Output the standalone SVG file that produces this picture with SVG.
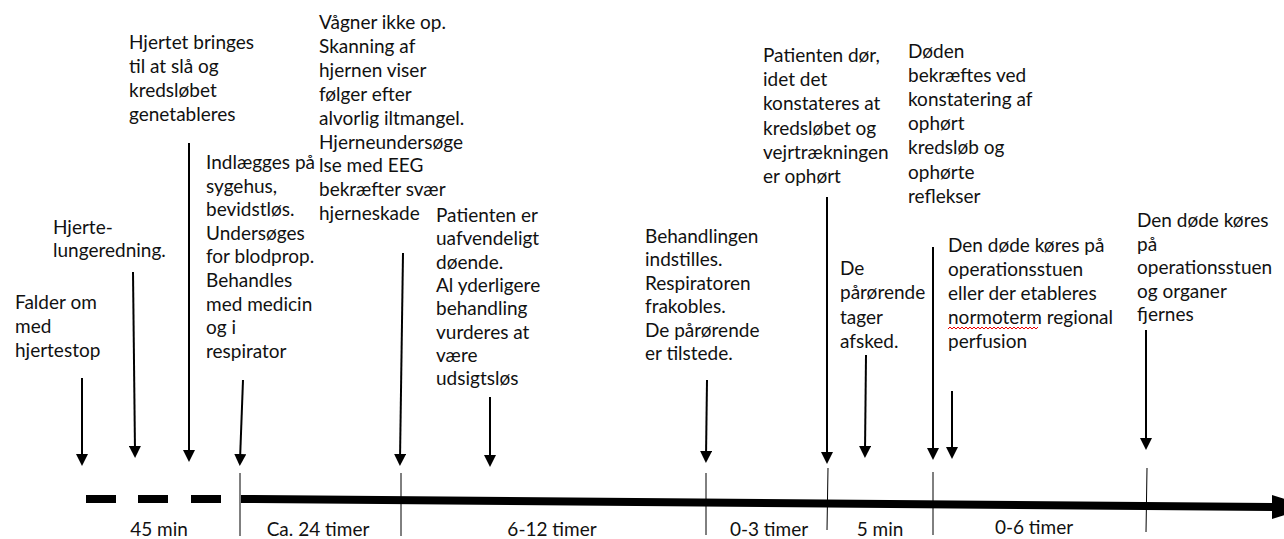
<svg xmlns="http://www.w3.org/2000/svg" width="1284" height="539" viewBox="0 0 1284 539">
<defs>
<style>
text{font-family:Lato,"Liberation Sans",sans-serif;font-size:19px;fill:#111}
.arr{stroke:#000;stroke-width:2;fill:none;marker-end:url(#ah)}
.tick{stroke:#000;stroke-width:1;fill:none}
.dash{fill:#000}
</style>
<marker id="ah" viewBox="0 0 12 12" refX="6" refY="6" markerWidth="12" markerHeight="12" markerUnits="userSpaceOnUse" orient="auto">
<path d="M0,0 L12,6 L0,12 z" fill="#000"/>
</marker>
</defs>
<rect width="1284" height="539" fill="#fff"/>

<g id="n-falder"><text x="15" y="309"><tspan x="15">Falder om</tspan><tspan x="15" dy="24">med</tspan><tspan x="15" dy="24">hjertestop</tspan></text></g>
<g id="n-hlr"><text x="53" y="234"><tspan x="53">Hjerte-</tspan><tspan x="53" dy="23">lungeredning.</tspan></text></g>
<g id="n-hjertet"><text x="129" y="49"><tspan x="129">Hjertet bringes</tspan><tspan x="129" dy="24">til at slå og</tspan><tspan x="129" dy="24">kredsløbet</tspan><tspan x="129" dy="24">genetableres</tspan></text></g>
<g id="n-indlaegges"><text x="206" y="169"><tspan x="206">Indlægges på</tspan><tspan x="206" dy="23.6">sygehus,</tspan><tspan x="206" dy="23.6">bevidstløs.</tspan><tspan x="206" dy="23.6">Undersøges</tspan><tspan x="206" dy="23.6">for blodprop.</tspan><tspan x="206" dy="23.6">Behandles</tspan><tspan x="206" dy="23.6">med medicin</tspan><tspan x="206" dy="23.6">og i</tspan><tspan x="206" dy="23.6">respirator</tspan></text></g>
<g id="n-vaagner"><text x="319" y="29"><tspan x="319">Vågner ikke op.</tspan><tspan x="319" dy="23.9">Skanning af</tspan><tspan x="319" dy="23.9">hjernen viser</tspan><tspan x="319" dy="23.9">følger efter</tspan><tspan x="319" dy="23.9">alvorlig iltmangel.</tspan><tspan x="319" dy="23.9">Hjerneundersøge</tspan><tspan x="319" dy="23.9">lse med EEG</tspan><tspan x="319" dy="23.9">bekræfter svær</tspan><tspan x="319" dy="23.9">hjerneskade</tspan></text></g>
<g id="n-patient-doende"><text x="436" y="222"><tspan x="436">Patienten er</tspan><tspan x="436" dy="23.3">uafvendeligt</tspan><tspan x="436" dy="23.3">døende.</tspan><tspan x="436" dy="23.3">Al yderligere</tspan><tspan x="436" dy="23.3">behandling</tspan><tspan x="436" dy="23.3">vurderes at</tspan><tspan x="436" dy="23.3">være</tspan><tspan x="436" dy="23.3">udsigtsløs</tspan></text></g>
<g id="n-behandlingen"><text x="645" y="243"><tspan x="645">Behandlingen</tspan><tspan x="645" dy="23.4">indstilles.</tspan><tspan x="645" dy="23.4">Respiratoren</tspan><tspan x="645" dy="23.4">frakobles.</tspan><tspan x="645" dy="23.4">De pårørende</tspan><tspan x="645" dy="23.4">er tilstede.</tspan></text></g>
<g id="n-patient-doer"><text x="763" y="62"><tspan x="763">Patienten dør,</tspan><tspan x="763" dy="24.2">idet det</tspan><tspan x="763" dy="24.2">konstateres at</tspan><tspan x="763" dy="24.2">kredsløbet og</tspan><tspan x="763" dy="24.2">vejrtrækningen</tspan><tspan x="763" dy="24.2">er ophørt</tspan></text></g>
<g id="n-afsked"><text x="840" y="275"><tspan x="840">De</tspan><tspan x="840" dy="24.3">pårørende</tspan><tspan x="840" dy="24.3">tager</tspan><tspan x="840" dy="24.3">afsked.</tspan></text></g>
<g id="n-doeden"><text x="908" y="58"><tspan x="908">Døden</tspan><tspan x="908" dy="24.1">bekræftes ved</tspan><tspan x="908" dy="24.1">konstatering af</tspan><tspan x="908" dy="24.1">ophørt</tspan><tspan x="908" dy="24.1">kredsløb og</tspan><tspan x="908" dy="24.1">ophørte</tspan><tspan x="908" dy="24.1">reflekser</tspan></text></g>
<g id="n-nrp"><text x="948" y="252"><tspan x="948">Den døde køres på</tspan><tspan x="948" dy="24">operationsstuen</tspan><tspan x="948" dy="24">eller der etableres</tspan><tspan x="948" dy="24">normoterm regional</tspan><tspan x="948" dy="24">perfusion</tspan></text>
<path d="M948,329 l2,-2 l2,2 l2,-2 l2,2 l2,-2 l2,2 l2,-2 l2,2 l2,-2 l2,2 l2,-2 l2,2 l2,-2 l2,2 l2,-2 l2,2 l2,-2 l2,2 l2,-2 l2,2 l2,-2 l2,2 l2,-2 l2,2 l2,-2 l2,2 l2,-2 l2,2 l2,-2 l2,2 l2,-2 l2,2 l2,-2 l2,2 l2,-2 l2,2 l2,-2 l2,2 l2,-2 l2,2 l2,-2 l2,2 l2,-2 l2,2 l2,-2" fill="none" stroke="#e00" stroke-width="1"/></g>
<g id="n-organer"><text x="1137" y="227"><tspan x="1137">Den døde køres</tspan><tspan x="1137" dy="23.6">på</tspan><tspan x="1137" dy="23.6">operationsstuen</tspan><tspan x="1137" dy="23.6">og organer</tspan><tspan x="1137" dy="23.6">fjernes</tspan></text></g>

<g id="durations" text-anchor="middle">
<text x="159" y="536">45 min</text>
<text x="318" y="536">Ca. 24 timer</text>
<text x="552" y="536">6-12 timer</text>
<text x="769" y="536">0-3 timer</text>
<text x="880" y="536">5 min</text>
<text x="1034" y="534">0-6 timer</text>
</g>

<g id="connectors">
<rect class="dash" x="86" y="495" width="30" height="8"/>
<rect class="dash" x="138" y="495" width="30" height="8"/>
<rect class="dash" x="191" y="495" width="30" height="8"/>
<line x1="241" y1="499" x2="1276" y2="507" stroke="#000" stroke-width="8"/>
<polygon points="1272,495 1310,507 1272,519" fill="#000"/>
<line class="tick" x1="240" y1="473" x2="240" y2="536"/>
<line class="tick" x1="401" y1="473" x2="401" y2="536"/>
<line class="tick" x1="706" y1="473" x2="706" y2="535"/>
<line class="tick" x1="828" y1="468" x2="827" y2="530"/>
<line class="tick" x1="933" y1="472" x2="933" y2="535"/>
<line class="tick" x1="1147" y1="468" x2="1146" y2="532"/>
<line class="arr" x1="82" y1="378" x2="82" y2="460"/>
<line class="arr" x1="133" y1="272" x2="135" y2="452"/>
<line class="arr" x1="189" y1="143" x2="189" y2="456"/>
<line class="arr" x1="243" y1="380" x2="240" y2="460"/>
<line class="arr" x1="403" y1="253" x2="400" y2="460"/>
<line class="arr" x1="490" y1="397" x2="490" y2="461"/>
<line class="arr" x1="707" y1="380" x2="706" y2="457"/>
<line class="arr" x1="827" y1="197" x2="827" y2="458"/>
<line class="arr" x1="866" y1="355" x2="865" y2="452"/>
<line class="arr" x1="933" y1="247" x2="933" y2="454"/>
<line class="arr" x1="952" y1="391" x2="952" y2="453"/>
<line class="arr" x1="1146" y1="330" x2="1146" y2="444"/>
</g>
</svg>
